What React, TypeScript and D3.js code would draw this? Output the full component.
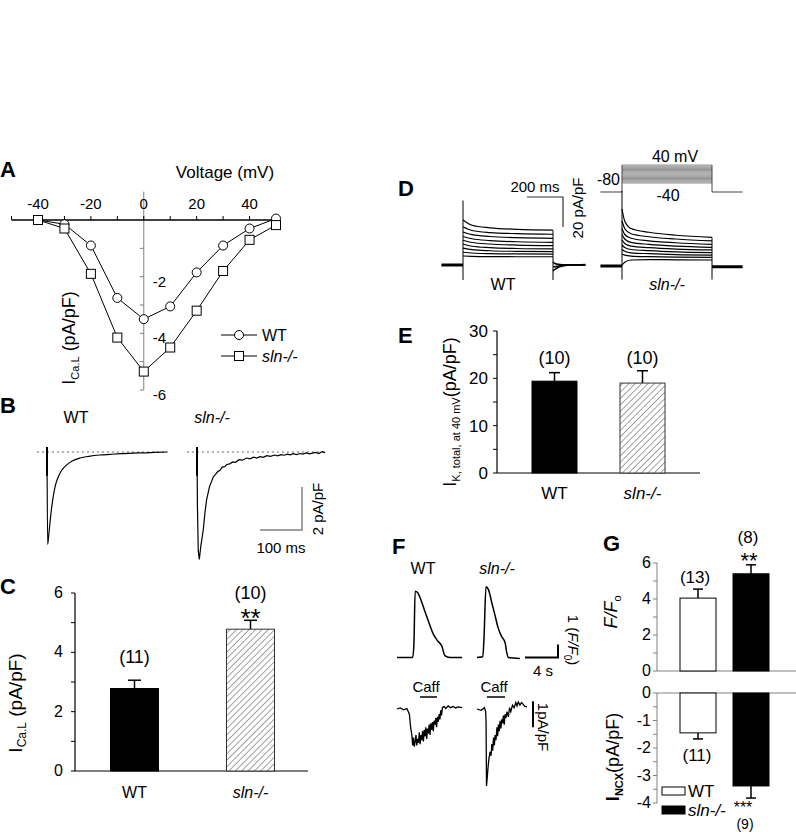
import React from 'react'
import * as d3 from 'd3'

const FONT = '"Liberation Sans", Arial, Helvetica, sans-serif'
const GRAY = '#808080'

// ---- A: I-V relation (mV, pA/pF)
const voltages = [-40, -30, -20, -10, 0, 10, 20, 30, 40, 50]
const ivWT = [0, -0.15, -0.9, -2.75, -3.5, -3.05, -1.85, -0.9, -0.3, 0.05]
const ivSln = [0, -0.3, -1.9, -4.15, -5.35, -4.5, -3.2, -1.8, -0.7, -0.18]
const ivXTicks = [-40, -20, 0, 20, 40]
const ivYTicks = [-2, -4, -6]

// ---- B: ICa,L traces (ms, pA/pF)
const bTimeWT = [0, 1.5, 4, 7, 11, 15, 20, 27, 35, 47, 60, 79, 100, 126, 150, 175, 205, 230, 255, 286]
const bCurWT = [0.23, -4.3, -3.9, -3.3, -2.6, -2.05, -1.55, -1.15, -0.85, -0.6, -0.42, -0.28, -0.2, -0.14, -0.11, -0.08, -0.05, -0.04, -0.02, 0]
const bTimeSln = [0, 1, 3, 5.5, 9, 15, 19, 23, 30, 39, 45, 50, 55, 60, 66, 71, 78, 85, 92, 100, 108, 118, 126, 135, 142, 150, 158, 166, 175, 185, 192, 200, 208, 215, 222, 229, 237, 245, 252, 260, 268, 275, 283, 290, 298, 305]
const bCurSln = [0.23, -2.5, -4.6, -5.0, -4.4, -3.6, -2.8, -2.2, -1.6, -1.15, -1.02, -0.9, -0.85, -0.7, -0.68, -0.58, -0.55, -0.46, -0.48, -0.36, -0.38, -0.28, -0.32, -0.24, -0.28, -0.22, -0.25, -0.17, -0.2, -0.14, -0.18, -0.12, -0.15, -0.1, -0.13, -0.08, -0.12, -0.07, -0.1, -0.04, -0.09, -0.05, -0.02, -0.07, 0.02, -0.03]
const bCap = [0.23, -1.1]

// ---- C: peak ICa,L
const groups = ['WT', 'sln-/-']
const cMean = [2.78, 4.78]
const cErr = [0.28, 0.3]
const cN = ['(11)', '(10)']

// ---- D: K+ current sweeps (ms, pA/pF)
const dTimeWT = [0, 50, 150, 300, 500]
const dSweepsWT = [
  [30, 26.5, 24.8, 23.8, 23.3],
  [25.5, 23, 21.6, 20.9, 20.5],
  [22, 20.2, 19, 18.2, 17.8],
  [19, 17.5, 16.3, 15.5, 15.1],
  [16.5, 15, 14, 13.3, 12.9],
  [14, 12.5, 11.6, 11, 10.7],
  [11.2, 10.2, 9.5, 9.1, 8.9],
  [8.5, 8, 7.6, 7.4, 7.3],
  [6, 5.8, 5.6, 5.5, 5.5],
]
const dTimeSln = [0, 15, 50, 150, 300, 500]
const dSweepsSln = [
  [38, 30, 25, 22.5, 20.5, 19.1],
  [30, 25, 21.5, 19.5, 18, 16.7],
  [25, 21, 18.5, 16.8, 15.5, 14.4],
  [21, 18, 15.8, 14.4, 13.2, 12.4],
  [17.5, 15, 13.2, 12.2, 11.3, 10.7],
  [14, 12.3, 11, 10.2, 9.4, 8.9],
  [11, 9.8, 8.8, 8.2, 7.6, 7.3],
  [8, 7.2, 6.6, 6.2, 5.9, 5.8],
  [0.5, 2.5, 4, 4.3, 4.1, 4],
]
const dTailTime = [500, 510, 530, 560, 600, 680]
const dTailsWT = [
  [-4, -3, -1.5, -0.5, 0, 0],
  [2, 1, 0.5, 0.2, 0, 0.3],
  [-1, -1.2, -0.6, 0, 0.2, 0],
]
const protocolMv = [-40, -35, -30, -25, -20, -15, -10, -5, 0, 5, 10, 15, 20, 25, 30, 35, 40]

// ---- E: IK total at 40 mV
const eMean = [19.4, 19.0]
const eErr = [1.8, 2.6]
const eN = ['(10)', '(10)']

// ---- F: Ca transients (s, F/F0) and NCX currents (s, pA/pF)
const fTimeCaWT = [0, 1.9, 2.05, 2.2, 2.5, 2.8, 3.3, 3.8, 4.4, 4.9, 5.45, 5.8, 6.4, 7.9]
const fCaWT = [0, 0, 1.0, 5.1, 5.0, 4.6, 3.7, 2.8, 1.8, 1.3, 0.85, 0.15, 0, 0]
const fTimeCaSln = [0, 0.7, 0.85, 1.09, 1.4, 1.82, 2.2, 2.55, 3.0, 3.4, 3.6, 3.8, 5.2]
const fCaSln = [0, 0.05, 1.5, 5.45, 5.2, 4.15, 3.2, 2.3, 1.6, 1.15, 0.4, 0, -0.08]
const fTimeNcxWT = [0, 0.4, 0.8, 1.2, 1.5, 1.65, 1.8, 1.9, 2.0, 2.1, 2.2, 2.3, 2.4, 2.5, 2.6, 2.7, 2.8, 2.9, 3.0, 3.1, 3.2, 3.3, 3.4, 3.5, 3.6, 3.7, 3.8, 3.9, 4.0, 4.1, 4.2, 4.3, 4.4, 4.5, 4.6, 4.7, 4.8, 4.9, 5.0, 5.1, 5.2, 5.3, 5.4, 5.5, 5.7, 5.9, 6.2, 6.5, 6.8, 7.1, 7.4, 7.9]
const fNcxWT = [0, 0.04, -0.03, 0.02, -0.2, -0.7, -1.0, -1.4, -1.1, -1.45, -1.25, -1.0, -1.4, -1.15, -1.3, -0.9, -1.35, -1.0, -1.2, -0.85, -1.25, -0.8, -1.05, -0.7, -1.15, -0.75, -0.95, -0.6, -1.0, -0.55, -0.8, -0.5, -0.85, -0.45, -0.6, -0.35, -0.7, -0.3, -0.5, -0.2, -0.4, -0.05, -0.25, 0.05, 0.1, 0.02, 0.12, 0.05, 0.1, 0.04, 0.08, 0.05]
const fTimeNcxSln = [0, 0.5, 0.9, 1.05, 1.1, 1.15, 1.25, 1.35, 1.45, 1.58, 1.7, 1.8, 1.9, 2.0, 2.1, 2.2, 2.3, 2.42, 2.5, 2.6, 2.7, 2.8, 2.9, 3.0, 3.1, 3.2, 3.3, 3.4, 3.5, 3.64, 3.8, 3.95, 4.1, 4.3, 4.5, 4.7, 4.85, 5.0, 5.2, 5.4, 5.6, 5.8, 6.06]
const fNcxSln = [0, -0.05, 0.05, -0.1, -0.5, -2.96, -2.6, -2.2, -1.9, -1.65, -1.8, -1.35, -1.6, -1.1, -1.4, -1.0, -1.2, -0.7, -1.05, -0.6, -0.85, -0.45, -0.75, -0.4, -0.55, -0.25, -0.6, -0.2, -0.35, -0.1, -0.3, 0.05, -0.1, 0.15, 0.05, 0.25, 0.12, 0.27, 0.15, 0.25, 0.18, 0.1, 0.08]
const fCaffWT = [2.8, 4.85]
const fCaffSln = [1.2, 3.4]

// ---- G: Ca transient amplitude and INCX
const gF = [4.05, 5.4]
const gFErr = [0.5, 0.5]
const gFN = ['(13)', '(8)']
const gNcx = [-1.45, -3.38]
const gNcxErr = [0.22, 0.44]
const gNcxN = ['(11)', '(9)']

const zip = (a: number[], b: number[]) => a.map((v, i) => [v, b[i]] as [number, number])

function PanelA() {
  const x = d3.scaleLinear().domain([-40, 50]).range([38, 276])
  const y = d3.scaleLinear().domain([0, -6]).range([220, 390])
  const line = d3.line<[number, number]>().x(d => x(d[0])).y(d => y(d[1]))
  const wt = zip(voltages, ivWT)
  const sl = zip(voltages, ivSln)
  return (
    <g>
      <text x={0} y={177} fontSize={22} fontWeight="bold">A</text>
      <text x={225} y={178} fontSize={17} textAnchor="middle">Voltage (mV)</text>
      <line x1={x(0)} x2={x(0)} y1={y(1)} y2={y(-6)} stroke={GRAY} />
      {d3.range(-1, -7, -1).map(v => (
        <line key={v} x1={x(0) - 4} x2={x(0)} y1={y(v)} y2={y(v)} stroke={GRAY} />
      ))}
      {ivYTicks.map(v => (
        <text key={v} x={x(0) + 9} y={y(v) + 10} fontSize={15}>{v}</text>
      ))}
      <line x1={x(-50)} x2={x(50)} y1={y(0)} y2={y(0)} stroke="#000" strokeWidth={1.5} />
      {d3.range(-50, 51, 10).map(v => (
        <line key={v} x1={x(v)} x2={x(v)} y1={y(0)} y2={y(0) - 4} stroke="#000" />
      ))}
      {ivXTicks.map(v => (
        <text key={v} x={x(v)} y={209} fontSize={15} textAnchor="middle">{v}</text>
      ))}
      <path d={line(wt) || ''} fill="none" stroke="#000" />
      <path d={line(sl) || ''} fill="none" stroke="#000" />
      {wt.map((d, i) => <circle key={i} cx={x(d[0])} cy={y(d[1])} r={4.5} fill="#fff" stroke="#000" />)}
      {sl.map((d, i) => <rect key={i} x={x(d[0]) - 4.5} y={y(d[1]) - 4.5} width={9} height={9} fill="#fff" stroke="#000" />)}
      <line x1={221} x2={257} y1={335} y2={335} stroke="#000" />
      <circle cx={239} cy={335} r={4.5} fill="#fff" stroke="#000" />
      <text x={262} y={341} fontSize={16}>WT</text>
      <line x1={221} x2={257} y1={356} y2={356} stroke="#000" />
      <rect x={234.5} y={351.5} width={9} height={9} fill="#fff" stroke="#000" />
      <text x={262} y={362} fontSize={16} fontStyle="italic">sln-/-</text>
      <g transform="translate(75,338) rotate(-90)">
        <text textAnchor="middle" fontSize={18}>I<tspan fontSize={11} dy={4}>Ca.L</tspan><tspan dy={-4}> (pA/pF)</tspan></text>
      </g>
    </g>
  )
}

function PanelB() {
  const xw = d3.scaleLinear().domain([0, 100]).range([47, 89])
  const xs = d3.scaleLinear().domain([0, 100]).range([197, 239])
  const y = d3.scaleLinear().domain([0, -2]).range([452, 495])
  const lw = d3.line<[number, number]>().x(d => xw(d[0])).y(d => y(d[1])).curve(d3.curveMonotoneX)
  const ls = d3.line<[number, number]>().x(d => xs(d[0])).y(d => y(d[1]))
  const tBar = xs(100) - xs(0)
  const iBar = y(-2) - y(0)
  return (
    <g>
      <text x={0} y={413} fontSize={22} fontWeight="bold">B</text>
      <text x={76} y={423} fontSize={16} textAnchor="middle">WT</text>
      <text x={212} y={423} fontSize={16} textAnchor="middle" fontStyle="italic">sln-/-</text>
      <line x1={xw(-24)} x2={xw(288)} y1={y(0)} y2={y(0)} stroke="#666" strokeDasharray="2,3" />
      <line x1={xs(-24)} x2={xs(305)} y1={y(0)} y2={y(0)} stroke="#666" strokeDasharray="2,3" />
      <path d={lw(zip(bTimeWT, bCurWT)) || ''} fill="none" stroke="#000" strokeWidth={1.2} />
      <path d={ls(zip(bTimeSln, bCurSln)) || ''} fill="none" stroke="#000" strokeWidth={1.2} />
      <line x1={xw(0)} x2={xw(0)} y1={y(bCap[0])} y2={y(bCap[1])} stroke="#000" strokeWidth={2} />
      <line x1={xs(0)} x2={xs(0)} y1={y(bCap[0])} y2={y(bCap[1])} stroke="#000" strokeWidth={2} />
      <path d={`M${302 - tBar},530H302V${530 - iBar}`} fill="none" stroke={GRAY} strokeWidth={1.5} />
      <text x={281} y={553} fontSize={15} textAnchor="middle">100 ms</text>
      <text transform="translate(323,509) rotate(-90)" fontSize={15} textAnchor="middle">2 pA/pF</text>
    </g>
  )
}

function ErrBar({ x, y0, y1, w }: { x: number; y0: number; y1: number; w: number }) {
  return (
    <g stroke="#000" strokeWidth={1.5}>
      <line x1={x} x2={x} y1={y0} y2={y1} />
      <line x1={x - w / 2} x2={x + w / 2} y1={y1} y2={y1} />
    </g>
  )
}

function PanelC() {
  const x = d3.scalePoint<string>().domain(groups).range([134.5, 250.5])
  const y = d3.scaleLinear().domain([0, 6]).range([771, 593])
  const bw = 48
  return (
    <g>
      <text x={0} y={594} fontSize={22} fontWeight="bold">C</text>
      <line x1={75} x2={75} y1={y(6)} y2={y(0)} stroke="#000" strokeWidth={1.2} />
      <line x1={75} x2={308} y1={y(0)} y2={y(0)} stroke="#000" strokeWidth={1.2} />
      {d3.range(0, 7).map(v => <line key={v} x1={71} x2={75} y1={y(v)} y2={y(v)} stroke="#000" />)}
      {[0, 2, 4, 6].map(v => <text key={v} x={63} y={y(v) + 5} fontSize={16} textAnchor="end">{v}</text>)}
      {groups.map((g, i) => {
        const cx = x(g) as number
        return (
          <g key={g}>
            <ErrBar x={cx} y0={y(cMean[i])} y1={y(cMean[i] + cErr[i])} w={13} />
            <rect x={cx - bw / 2} y={y(cMean[i])} width={bw} height={y(0) - y(cMean[i])}
              fill={i === 0 ? '#000' : 'url(#hatch)'} stroke={i === 0 ? '#000' : '#333'} />
            <text x={cx} y={y(cMean[i] + cErr[i]) - (i === 0 ? 17 : 21)} fontSize={18} textAnchor="middle">{cN[i]}</text>
            <text x={cx} y={798} fontSize={16} textAnchor="middle" fontStyle={i ? 'italic' : 'normal'}>{g}</text>
          </g>
        )
      })}
      <text x={x('sln-/-')} y={627} fontSize={26} textAnchor="middle">**</text>
      <g transform="translate(22,703) rotate(-90)">
        <text textAnchor="middle" fontSize={19}>I<tspan fontSize={12} dy={4}>Ca.L</tspan><tspan dy={-4}> (pA/pF)</tspan></text>
      </g>
    </g>
  )
}

function PanelD() {
  const xw = d3.scaleLinear().domain([0, 500]).range([463, 553])
  const xs = d3.scaleLinear().domain([0, 500]).range([622, 712])
  const yw = d3.scaleLinear().domain([0, 20]).range([265, 235])
  const ys = d3.scaleLinear().domain([0, 20]).range([266, 236])
  const yp = d3.scaleLinear().domain([-80, 40]).range([192, 165])
  const lw = d3.line<[number, number]>().x(d => xw(d[0])).y(d => yw(d[1])).curve(d3.curveMonotoneX)
  const ls = d3.line<[number, number]>().x(d => xs(d[0])).y(d => ys(d[1])).curve(d3.curveMonotoneX)
  return (
    <g>
      <text x={398} y={196} fontSize={22} fontWeight="bold">D</text>
      {/* voltage protocol */}
      <path d={`M${xs(-120)},${yp(-80)}H${xs(0)}M${xs(500)},${yp(-80)}H${xs(670)}`} stroke={GRAY} strokeWidth={1.5} fill="none" />
      {protocolMv.map(v => (
        <line key={v} x1={xs(0)} x2={xs(500)} y1={yp(v)} y2={yp(v)} stroke="#777" strokeWidth={0.8} />
      ))}
      <line x1={xs(0)} x2={xs(0)} y1={yp(-80)} y2={yp(40)} stroke="#444" />
      <line x1={xs(500)} x2={xs(500)} y1={yp(-80)} y2={yp(40)} stroke="#444" />
      <text x={620} y={185} fontSize={16} textAnchor="end">-80</text>
      <text x={675} y={162} fontSize={16} textAnchor="middle">40 mV</text>
      <text x={668} y={201} fontSize={16} textAnchor="middle">-40</text>
      {/* WT sweeps */}
      <line x1={xw(-120)} x2={xw(0)} y1={yw(0)} y2={yw(0)} stroke="#000" strokeWidth={3} />
      {dSweepsWT.map((s, i) => (
        <path key={i} d={lw(zip(dTimeWT, s)) || ''} fill="none" stroke="#000" strokeWidth={1.2} />
      ))}
      {dTailsWT.map((s, i) => (
        <path key={i} d={lw(zip(dTailTime, s)) || ''} fill="none" stroke="#000" strokeWidth={1.5} />
      ))}
      <line x1={xw(0)} x2={xw(0)} y1={yw(43)} y2={yw(-10)} stroke="#000" />
      <line x1={xw(500)} x2={xw(500)} y1={yw(23)} y2={yw(-10)} stroke="#000" />
      {/* sln sweeps */}
      <line x1={xs(-120)} x2={xs(0)} y1={ys(0)} y2={ys(0)} stroke="#000" strokeWidth={3} />
      {dSweepsSln.map((s, i) => (
        <path key={i} d={ls(zip(dTimeSln, s)) || ''} fill="none" stroke="#000" strokeWidth={1.2} />
      ))}
      <line x1={xs(500)} x2={xs(670)} y1={ys(-0.5)} y2={ys(-0.5)} stroke="#000" strokeWidth={3} />
      <line x1={xs(0)} x2={xs(0)} y1={ys(50)} y2={ys(-9)} stroke="#000" />
      <line x1={xs(500)} x2={xs(500)} y1={ys(19)} y2={ys(-9)} stroke="#000" />
      {/* scale bars */}
      <path d={`M${563 - (xw(200) - xw(0))},197H563V${197 + (yw(0) - yw(20))}`} fill="none" stroke="#333" strokeWidth={1.2} />
      <text x={535} y={192} fontSize={15} textAnchor="middle">200 ms</text>
      <text transform="translate(583,208) rotate(-90)" fontSize={15} textAnchor="middle">20 pA/pF</text>
      <text x={503} y={290} fontSize={16} textAnchor="middle">WT</text>
      <text x={667} y={290} fontSize={16} textAnchor="middle" fontStyle="italic">sln-/-</text>
    </g>
  )
}

function PanelE() {
  const x = d3.scalePoint<string>().domain(groups).range([554.5, 642.5])
  const y = d3.scaleLinear().domain([0, 30]).range([473, 331])
  const bw = 45
  return (
    <g>
      <text x={398} y={343} fontSize={22} fontWeight="bold">E</text>
      <line x1={497} x2={497} y1={y(30)} y2={y(0)} stroke="#000" strokeWidth={1.2} />
      <line x1={497} x2={700} y1={y(0)} y2={y(0)} stroke="#000" strokeWidth={1.2} />
      {d3.range(0, 31, 5).map(v => <line key={v} x1={493} x2={497} y1={y(v)} y2={y(v)} stroke="#000" />)}
      {[0, 10, 20, 30].map(v => <text key={v} x={488} y={y(v) + 6} fontSize={17} textAnchor="end">{v}</text>)}
      {groups.map((g, i) => {
        const cx = x(g) as number
        return (
          <g key={g}>
            <ErrBar x={cx} y0={y(eMean[i])} y1={y(eMean[i] + eErr[i])} w={11} />
            <rect x={cx - bw / 2} y={y(eMean[i])} width={bw} height={y(0) - y(eMean[i])}
              fill={i === 0 ? '#000' : 'url(#hatch)'} stroke={i === 0 ? '#000' : '#333'} />
            <text x={cx} y={364} fontSize={18} textAnchor="middle">{eN[i]}</text>
            <text x={cx} y={499} fontSize={17} textAnchor="middle" fontStyle={i ? 'italic' : 'normal'}>{g}</text>
          </g>
        )
      })}
      <g transform="translate(456,412) rotate(-90)">
        <text textAnchor="middle" fontSize={18}>I<tspan fontSize={11} dy={4}>K, total, at 40 mV</tspan><tspan dy={-4}>(pA/pF)</tspan></text>
      </g>
    </g>
  )
}

function PanelF() {
  const xw = d3.scaleLinear().domain([0, 4]).range([397, 430])
  const xs = d3.scaleLinear().domain([0, 4]).range([477, 510])
  const yCa = d3.scaleLinear().domain([0, 1]).range([657.5, 644.5])
  const yN = d3.scaleLinear().domain([0, -1]).range([709, 735])
  const caW = d3.line<[number, number]>().x(d => xw(d[0])).y(d => yCa(d[1])).curve(d3.curveMonotoneX)
  const caS = d3.line<[number, number]>().x(d => xs(d[0])).y(d => yCa(d[1])).curve(d3.curveMonotoneX)
  const nW = d3.line<[number, number]>().x(d => xw(d[0])).y(d => yN(d[1]))
  const nS = d3.line<[number, number]>().x(d => xs(d[0])).y(d => yN(d[1]))
  const sBar = xs(4) - xs(0)
  return (
    <g>
      <text x={392} y={554} fontSize={22} fontWeight="bold">F</text>
      <text x={423} y={574} fontSize={16} textAnchor="middle">WT</text>
      <text x={497} y={574} fontSize={16} textAnchor="middle" fontStyle="italic">sln-/-</text>
      <path d={caW(zip(fTimeCaWT, fCaWT)) || ''} fill="none" stroke="#000" strokeWidth={1.5} />
      <path d={caS(zip(fTimeCaSln, fCaSln)) || ''} fill="none" stroke="#000" strokeWidth={1.5} />
      <path d={`M${558 - sBar},${yCa(0)}H558V${yCa(1)}`} fill="none" stroke="#000" strokeWidth={2} />
      <text x={543} y={676} fontSize={15} textAnchor="middle">4 s</text>
      <g transform="translate(568,640) rotate(90)">
        <text textAnchor="middle" fontSize={15}>1 (<tspan fontStyle="italic">F/F</tspan><tspan fontSize={10} dy={4}>0</tspan><tspan dy={-4}>)</tspan></text>
      </g>
      <text x={426} y={692} fontSize={15} textAnchor="middle">Caff</text>
      <text x={494} y={692} fontSize={15} textAnchor="middle">Caff</text>
      <line x1={xw(fCaffWT[0])} x2={xw(fCaffWT[1])} y1={697} y2={697} stroke="#000" strokeWidth={1.5} />
      <line x1={xs(fCaffSln[0])} x2={xs(fCaffSln[1])} y1={697} y2={697} stroke="#000" strokeWidth={1.5} />
      <path d={nW(zip(fTimeNcxWT, fNcxWT)) || ''} fill="none" stroke="#000" strokeWidth={1.3} />
      <path d={nS(zip(fTimeNcxSln, fNcxSln)) || ''} fill="none" stroke="#000" strokeWidth={1.3} />
      <line x1={533} x2={533} y1={yN(0.3)} y2={yN(-0.7)} stroke="#000" strokeWidth={2} />
      <g transform="translate(538,727) rotate(90)">
        <text textAnchor="middle" fontSize={15}>1pA/pF</text>
      </g>
    </g>
  )
}

function PanelG() {
  const x = d3.scalePoint<string>().domain(groups).range([698, 751])
  const yu = d3.scaleLinear().domain([0, 6]).range([671, 563])
  const yl = d3.scaleLinear().domain([0, -4]).range([693, 803])
  const bw = 36
  return (
    <g>
      <text x={603} y={551} fontSize={22} fontWeight="bold">G</text>
      <line x1={657} x2={657} y1={yu(6)} y2={yu(0)} stroke={GRAY} />
      <line x1={657} x2={796} y1={yu(0)} y2={yu(0)} stroke={GRAY} />
      {d3.range(0, 7).map(v => <line key={v} x1={653} x2={657} y1={yu(v)} y2={yu(v)} stroke={GRAY} />)}
      {[0, 2, 4, 6].map(v => <text key={v} x={651} y={yu(v) + 5} fontSize={16} textAnchor="end">{v}</text>)}
      <line x1={657} x2={657} y1={yl(0)} y2={yl(-4)} stroke={GRAY} />
      <line x1={657} x2={796} y1={yl(0)} y2={yl(0)} stroke={GRAY} />
      {d3.range(0, -4.1, -0.5).map(v => <line key={v} x1={653} x2={657} y1={yl(v)} y2={yl(v)} stroke={GRAY} />)}
      {[0, -1, -2, -3, -4].map(v => <text key={v} x={651} y={yl(v) + 5} fontSize={16} textAnchor="end">{v}</text>)}
      {groups.map((g, i) => {
        const cx = x(g) as number
        const fill = i === 0 ? '#fff' : '#000'
        return (
          <g key={g}>
            <ErrBar x={cx} y0={yu(gF[i])} y1={yu(gF[i] + gFErr[i])} w={10} />
            <rect x={cx - bw / 2} y={yu(gF[i])} width={bw} height={yu(0) - yu(gF[i])} fill={fill} stroke="#000" />
            <ErrBar x={cx} y0={yl(gNcx[i])} y1={yl(gNcx[i] - gNcxErr[i])} w={10} />
            <rect x={cx - bw / 2} y={yl(0)} width={bw} height={yl(gNcx[i]) - yl(0)} fill={fill} stroke="#000" />
          </g>
        )
      })}
      <text x={695} y={583} fontSize={17} textAnchor="middle">{gFN[0]}</text>
      <text x={748} y={543} fontSize={17} textAnchor="middle">{gFN[1]}</text>
      <text x={749} y={568} fontSize={22} textAnchor="middle">**</text>
      <text x={697} y={761} fontSize={17} textAnchor="middle">{gNcxN[0]}</text>
      <text x={743} y={813} fontSize={16} textAnchor="middle">***</text>
      <text x={745} y={829} fontSize={14} textAnchor="middle">{gNcxN[1]}</text>
      <rect x={662} y={787} width={23} height={8} fill="#fff" stroke="#000" />
      <text x={688} y={797} fontSize={17}>WT</text>
      <rect x={662} y={806} width={23} height={8} fill="#000" stroke="#000" />
      <text x={688} y={816} fontSize={17} fontStyle="italic">sln-/-</text>
      <g transform="translate(617,612) rotate(-90)">
        <text textAnchor="middle" fontSize={18} fontStyle="italic">F/F<tspan fontSize={11} dy={4} fontStyle="normal">o</tspan></text>
      </g>
      <g transform="translate(619,757) rotate(-90)">
        <text textAnchor="middle" fontSize={18}><tspan fontWeight="bold">I</tspan><tspan fontSize={11} dy={4} fontWeight="bold">NCX</tspan><tspan dy={-4}>(pA/pF)</tspan></text>
      </g>
    </g>
  )
}

export default function App() {
  return (
    <div style={{ position: 'absolute', left: 0, top: 0 }}>
      <svg width={796} height={832} style={{ display: 'block', background: '#fff', fontFamily: FONT }}>
        <defs>
          <pattern id="hatch" width={4.5} height={4.5} patternUnits="userSpaceOnUse" patternTransform="rotate(45)">
            <rect width={4.5} height={4.5} fill="#fff" />
            <line x1={0} y1={0} x2={0} y2={4.5} stroke="#666" strokeWidth={1.2} />
          </pattern>
        </defs>
        <PanelA />
        <PanelB />
        <PanelC />
        <PanelD />
        <PanelE />
        <PanelF />
        <PanelG />
      </svg>
    </div>
  )
}
